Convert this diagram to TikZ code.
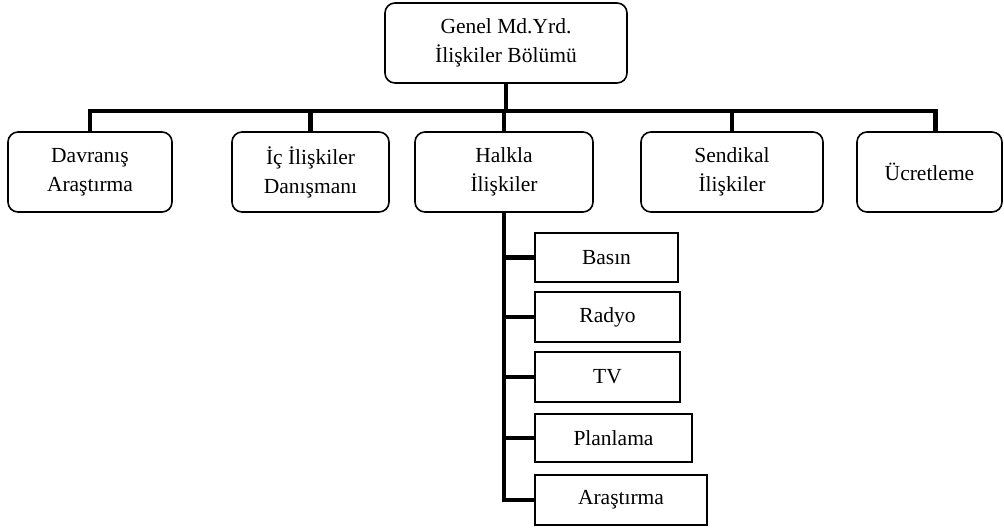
\documentclass[tikz,border=0pt]{standalone}
\usepackage{fontspec}
\setmainfont{Liberation Serif}
\usetikzlibrary{calc}
\begin{document}
\begin{tikzpicture}[x=1pt,y=-1pt,
  unit/.style={draw=black,line width=1.6pt,rounded corners=10pt,align=center,
    inner sep=0pt,font=\fontsize{21.5}{29}\selectfont},
  sub/.style={draw=black,line width=1.6pt,align=center,inner sep=0pt,
    font=\fontsize{21.5}{29}\selectfont},
  conn/.style={draw=black,line width=4.5pt}]
\useasboundingbox (0,0) rectangle (1004,528);
\node[unit,minimum width=242pt,minimum height=80pt] (top) at (506,43) {Genel Md.Yrd.\\İlişkiler Bölümü};
\node[unit,minimum width=164pt,minimum height=80pt] (dav) at (90,172) {Davranış\\Araştırma};
\node[unit,minimum width=157pt,minimum height=80pt] (ic) at (310.5,172) {İç İlişkiler\\Danışmanı};
\node[unit,minimum width=178pt,minimum height=80pt] (halk) at (504,172) {Halkla\\İlişkiler};
\node[unit,minimum width=182pt,minimum height=80pt] (send) at (732,172) {Sendikal\\İlişkiler};
\node[unit,minimum width=145pt,minimum height=80pt] (ucr) at (929.5,172) {Ücretleme};
\coordinate (bus) at (0,111);
\draw[conn] (top.south) -- (top.south |- bus);
\draw[conn] (dav.north) |- ($(ucr.north |- bus)+(6,0)$) -- ($(ucr.north)+(6,0)$);
\draw[conn] (ic.north) -- (ic.north |- bus);
\draw[conn] (halk.north) -- (halk.north |- bus);
\draw[conn] (send.north) -- (send.north |- bus);
\node[sub,minimum width=143pt,minimum height=49pt] (basin) at (606.5,257.5) {Basın};
\node[sub,minimum width=145pt,minimum height=50pt] (radyo) at (607.5,317) {Radyo};
\node[sub,minimum width=145pt,minimum height=50pt] (tv) at (607.5,377) {TV};
\node[sub,minimum width=157pt,minimum height=48pt] (plan) at (613.5,438) {Planlama};
\node[sub,minimum width=172pt,minimum height=50pt] (aras) at (621,500) {Araştırma};
\draw[conn] (halk.south) |- (aras.west);
\draw[conn] (halk.south |- basin.west) -- (basin.west);
\draw[conn] (halk.south |- radyo.west) -- (radyo.west);
\draw[conn] (halk.south |- tv.west) -- (tv.west);
\draw[conn] (halk.south |- plan.west) -- (plan.west);
\end{tikzpicture}
\end{document}
